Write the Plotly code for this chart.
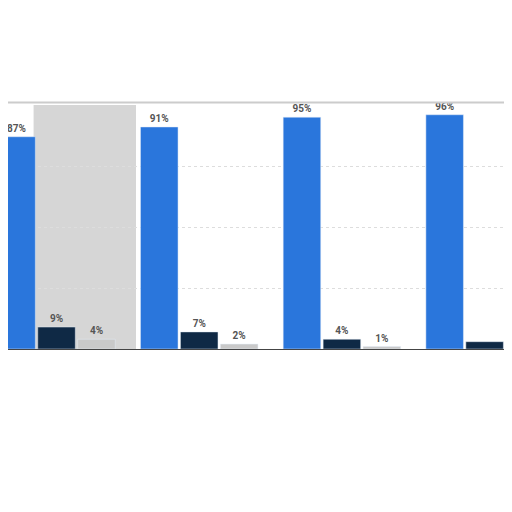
import plotly.graph_objects as go

groups = ['A', 'B', 'C', 'D']
blue_vals = [87, 91, 95, 96]
dark_vals = [9, 7, 4, 3]
gray_vals = [4, 2, 1, 0]

blue_txt = [f'<b>{v}%</b>' for v in blue_vals]
dark_txt = [f'<b>{v}%</b>' for v in dark_vals[:3]] + ['']
gray_txt = [f'<b>{v}%</b>' for v in gray_vals[:3]] + ['']

fig = go.Figure()
for vals, txt, col in [(blue_vals, blue_txt, '#2a76dc'),
                       (dark_vals, dark_txt, '#0f2945'),
                       (gray_vals, gray_txt, '#c9c9c9')]:
    fig.add_trace(go.Bar(x=groups, y=vals, text=txt, textposition='outside',
                         marker_color=col, cliponaxis=False,
                         textfont=dict(family='Roboto', size=10, color='#555555')))

# washed-out grey patch on the left of the screenshot
fig.add_shape(type='rect', xref='paper', yref='paper', x0=0.05, x1=0.25, y0=0, y1=1,
              fillcolor='#d6d6d6', line_width=0, layer='below')
# thin frame line on top
fig.add_shape(type='line', xref='paper', yref='paper', x0=0, x1=0.985, y0=1.01, y1=1.01,
              line=dict(color='#cccccc', width=2))

fig.update_layout(
    width=512, height=512,
    margin=dict(l=0, r=0, t=97, b=171),
    barmode='group', bargap=0.16, bargroupgap=0.06,
    showlegend=False,
    plot_bgcolor='white', paper_bgcolor='white',
    xaxis=dict(range=[-0.34, 3.248], showticklabels=False, showgrid=False,
               showline=True, linecolor='#444444', linewidth=1, zeroline=False),
    yaxis=dict(range=[0, 100], showticklabels=False, dtick=25,
               gridcolor='#dddddd', griddash='dot', zeroline=False),
)

fig.write_html("out.html")
